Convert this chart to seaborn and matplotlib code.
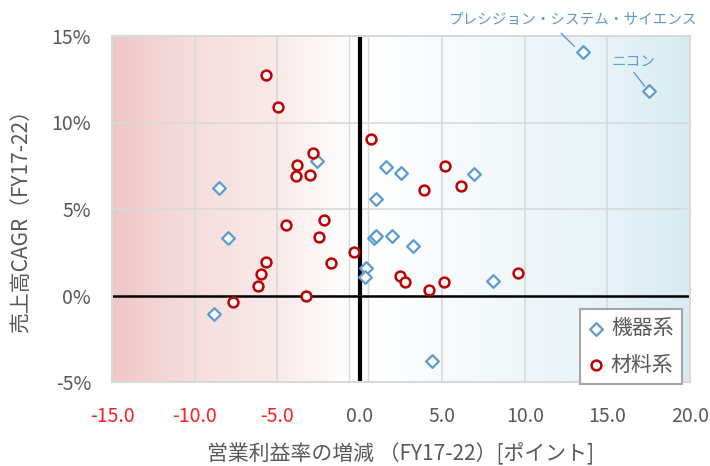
import numpy as np
import pandas as pd
import matplotlib
matplotlib.use("Agg")
import matplotlib.pyplot as plt
import seaborn as sns

# 機器系: change in operating margin (pt) and sales CAGR (%)
equip_margin = [13.5, 17.5, -2.6, -8.5, -7.95, -8.8, 1.6, 2.5, 6.95, 1.0,
                0.85, 1.0, 1.95, 3.2, 0.4, 0.3, 8.1, 4.35]
equip_cagr = [14.1, 11.8, 7.8, 6.2, 3.35, -1.05, 7.45, 7.1, 7.0, 5.55,
              3.35, 3.45, 3.45, 2.85, 1.6, 1.05, 0.85, -3.8]

# 材料系
mat_margin = [-5.65, -4.95, -2.85, -3.8, -3.85, -3.0, -4.45, -2.15, -2.45, -0.35,
              -5.7, -1.75, -6.0, -6.15, -3.25, -7.7, 0.7, 5.15, 3.9, 6.15,
              2.45, 2.75, 4.2, 5.1, 9.6]
mat_cagr = [12.75, 10.9, 8.25, 7.55, 6.9, 6.95, 4.1, 4.35, 3.4, 2.5,
            1.95, 1.9, 1.25, 0.55, 0.0, -0.4, 9.05, 7.5, 6.1, 6.35,
            1.1, 0.8, 0.3, 0.8, 1.3]

group_names = ["機器系", "材料系"]
x_ticks = [-15.0, -10.0, -5.0, 0.0, 5.0, 10.0, 15.0, 20.0]
y_ticks = [-5, 0, 5, 10, 15]

annotations = [
    ("プレシジョン・システム・サイエンス", 13.5, 14.1),
    ("ニコン", 17.5, 11.8),
]

df = pd.DataFrame({
    "margin": equip_margin + mat_margin,
    "cagr": equip_cagr + mat_cagr,
    "group": [group_names[0]] * len(equip_margin) + [group_names[1]] * len(mat_margin),
})

sns.set_theme(style="white")
plt.rcParams["font.family"] = ["Noto Sans CJK JP", "DejaVu Sans"]
plt.rcParams["axes.unicode_minus"] = False

BLUE = "#5B9BD5"
RED = "#C00000"
GREY_TXT = "#595959"
GRID = "#D9D9D9"

fig = plt.figure(figsize=(7.10, 4.66), dpi=100)
ax = fig.add_axes([112 / 710, 84 / 466, 578 / 710, 346 / 466])

xmin, xmax, ymin, ymax = -15, 20, -5, 15

# horizontal colour wash: red on the left half, blue on the right half
stops_x = [-15, -10, -5, -0.6, 0.5, 5, 10, 15, 20]
stops_c = np.array([
    (239, 199, 200), (246, 221, 221), (250, 234, 234), (255, 255, 255),
    (255, 255, 255), (247, 251, 253), (240, 247, 250), (231, 243, 248),
    (216, 235, 242)]) / 255.0
xs = np.linspace(xmin, xmax, 800)
grad = np.stack([np.interp(xs, stops_x, stops_c[:, k]) for k in range(3)], axis=-1)
ax.imshow(grad[np.newaxis, :, :], extent=(xmin, xmax, ymin, ymax),
          aspect="auto", zorder=0, interpolation="bilinear")
for xb in (-0.65, 0.5):
    ax.axvline(xb, color=GRID, lw=1.0, zorder=0.5)

ax.set_xlim(xmin, xmax)
ax.set_ylim(ymin, ymax)
ax.set_xticks(x_ticks)
ax.set_yticks(y_ticks)
ax.grid(True, color=GRID, lw=1.2, zorder=0.6)
ax.set_axisbelow(True)

ax.axhline(0, color="black", lw=1.8, zorder=2)
ax.axvline(0, color="black", lw=3.0, zorder=2)

sub_e = df[df["group"] == group_names[0]]
sub_m = df[df["group"] == group_names[1]]
sns.scatterplot(data=sub_e, x="margin", y="cagr", marker="D", s=42,
                color="white", edgecolor=BLUE, linewidth=1.6,
                label=group_names[0], ax=ax, zorder=3)
sns.scatterplot(data=sub_m, x="margin", y="cagr", marker="o", s=50,
                color="white", edgecolor=RED, linewidth=1.8,
                label=group_names[1], ax=ax, zorder=3)

# company labels with leader lines
ax.text(12.9, 15.95, annotations[0][0], color=BLUE, fontsize=10.5,
        ha="center", va="center", clip_on=False)
ax.plot([12.2, 13.0], [15.15, 14.4], color=BLUE, lw=1.0, clip_on=False, zorder=3)
ax.text(16.6, 13.5, annotations[1][0], color=BLUE, fontsize=10.5,
        ha="center", va="center")
ax.plot([16.6, 17.25], [12.9, 12.1], color=BLUE, lw=1.0, zorder=3)

# tick labels
ax.set_xticklabels([f"{v:.1f}" for v in x_ticks], fontsize=14)
for lbl, v in zip(ax.get_xticklabels(), x_ticks):
    lbl.set_color("#FF2020" if v < 0 else GREY_TXT)
ax.set_yticklabels([f"{v}%" for v in y_ticks], fontsize=14, color=GREY_TXT)
ax.tick_params(axis="x", length=0, pad=17)
ax.tick_params(axis="y", length=0, pad=15)

for sp in ax.spines.values():
    sp.set_color(GRID)
    sp.set_linewidth(1.5)

ax.set_xlabel("営業利益率の増減 （FY17-22）[ポイント]", fontsize=15, color=GREY_TXT)
ax.set_ylabel("売上高CAGR（FY17-22）", fontsize=15, color=GREY_TXT)
ax.xaxis.set_label_coords(0.5, -0.175)
ax.yaxis.set_label_coords(-0.138, 0.48)

leg = ax.legend(loc="lower right", bbox_to_anchor=(0.986, -0.006), frameon=True,
                fancybox=False, fontsize=15, labelspacing=0.7,
                handletextpad=0.3, borderpad=0.4, handlelength=0.8,
                borderaxespad=0.0, markerscale=1.0)
leg.get_frame().set_edgecolor("#A6A6A6")
leg.get_frame().set_linewidth(1.5)
leg.get_frame().set_facecolor("white")
leg.get_frame().set_alpha(1.0)
for t in leg.get_texts():
    t.set_color(GREY_TXT)
leg.set_zorder(5)

fig.savefig("out.png", dpi=100)
